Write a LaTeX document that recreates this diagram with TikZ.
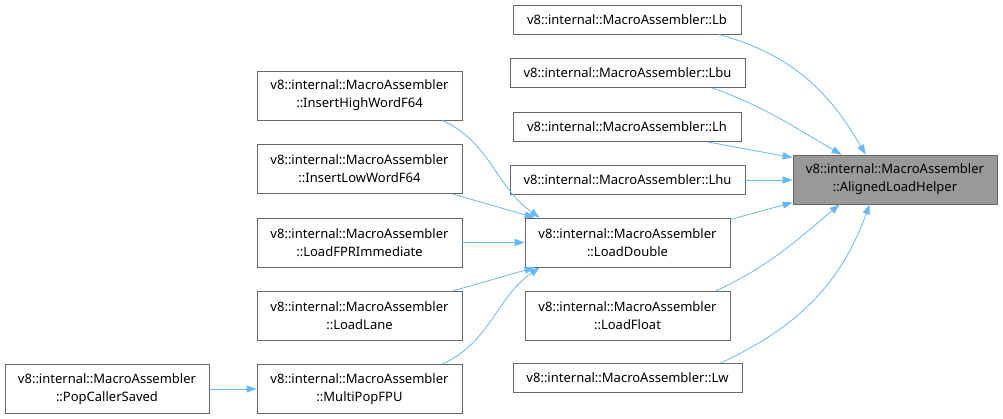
\documentclass[tikz,border=0pt]{standalone}
\usepackage{fontspec}
\setmainfont{Noto Sans}
\usepackage{tikz}
\usetikzlibrary{arrows.meta}
\definecolor{edgeblue}{HTML}{63B8FF}
\definecolor{boxline}{HTML}{666666}
\definecolor{curfill}{HTML}{999999}
\tikzset{
  ar/.style={-{Triangle[length=10pt,width=7pt]},line width=0.8pt,edgeblue},
  fn/.style={draw=boxline,line width=0.8pt,fill=white,align=center,inner sep=2pt,
    font=\fontsize{13}{18}\selectfont,minimum height=29pt},
  fntwo/.style={fn,minimum width=205pt,minimum height=49pt},
  cur/.style={fntwo,fill=curfill,minimum width=204pt}
}

\begin{document}
\begin{tikzpicture}[x=1pt,y=-1pt]
\useasboundingbox (0,0) rectangle (1003,419);
% callers of the helper
\node[fn,minimum width=228pt] (lb) at (627,19.5) {v8::internal::MacroAssembler::Lb};
\node[fn,minimum width=235pt] (lbu) at (627.5,73) {v8::internal::MacroAssembler::Lbu};
\node[fn,minimum width=228pt] (lh) at (627,127) {v8::internal::MacroAssembler::Lh};
\node[fn,minimum width=235pt] (lhu) at (627.5,180) {v8::internal::MacroAssembler::Lhu};
\node[cur] (alh) at (895,179.5) {v8::internal::MacroAssembler\\::AlignedLoadHelper};
\node[fntwo] (ldbl) at (627.5,242.5) {v8::internal::MacroAssembler\\::LoadDouble};
\node[fntwo] (lflt) at (627.5,316) {v8::internal::MacroAssembler\\::LoadFloat};
\node[fn,minimum width=229pt] (lw) at (627.5,378) {v8::internal::MacroAssembler::Lw};
% callers of LoadDouble
\node[fntwo] (insh) at (359.5,95.5) {v8::internal::MacroAssembler\\::InsertHighWordF64};
\node[fntwo] (insl) at (359.5,169) {v8::internal::MacroAssembler\\::InsertLowWordF64};
\node[fntwo] (lfpr) at (359.5,242.5) {v8::internal::MacroAssembler\\::LoadFPRImmediate};
\node[fntwo] (lane) at (359.5,316) {v8::internal::MacroAssembler\\::LoadLane};
\node[fntwo] (mpop) at (359.5,389) {v8::internal::MacroAssembler\\::MultiPopFPU};
\node[fntwo,minimum width=204pt] (pcs) at (107,389) {v8::internal::MacroAssembler\\::PopCallerSaved};

\draw[ar] ([xshift=-23]lb.south east) to[out=-15,in=120] ([xshift=73]alh.north west);
\draw[ar] ([xshift=-33]lbu.south east) to[out=-20,in=150] ([xshift=49]alh.north west);
\draw[ar] ([xshift=-34]lh.south east) -- ([yshift=-3]alh.north west);
\draw[ar] (lhu.east) -- (lhu.east -| alh.west);
\draw[ar] ([yshift=-2]ldbl.north east) -- ([yshift=2]alh.south west);
\draw[ar] ([xshift=-15]lflt.north east) to[out=25,in=-140] ([xshift=47]alh.south west);
\draw[ar] ([xshift=-22]lw.north east) to[out=25,in=-110] ([xshift=77]alh.south west);

\draw[ar] ([xshift=-20]insh.south east) to[out=-25,in=145] ([xshift=15]ldbl.north west);
\draw[ar] ([xshift=-10]insl.south east) -- ([xshift=10]ldbl.north west);
\draw[ar] (lfpr) -- (ldbl);
\draw[ar] ([xshift=-10]lane.north east) -- ([xshift=10]ldbl.south west);
\draw[ar] ([xshift=-20]mpop.north east) to[out=25,in=-145] ([xshift=15]ldbl.south west);
\draw[ar] (pcs) -- (mpop);
\end{tikzpicture}
\end{document}
